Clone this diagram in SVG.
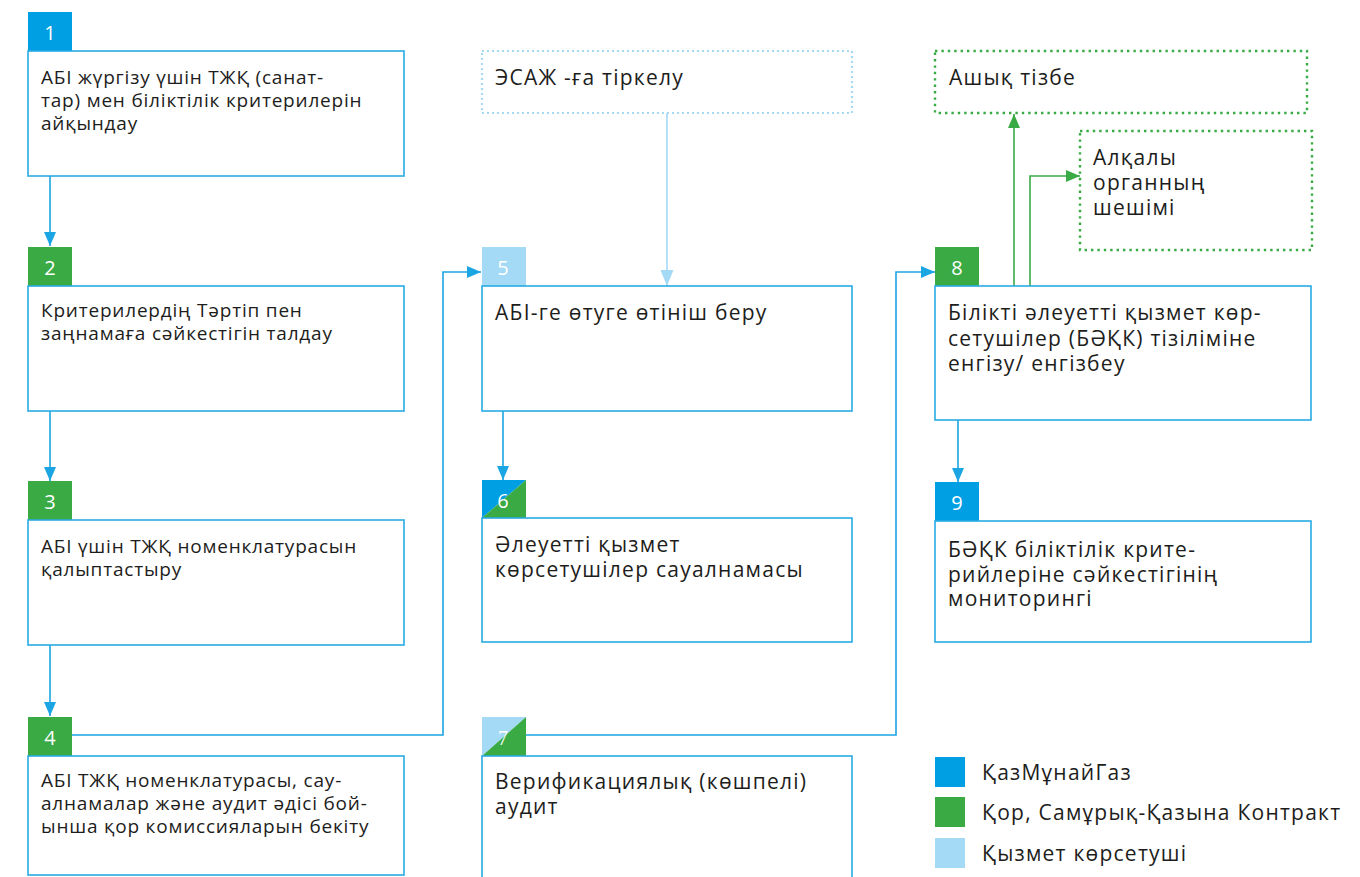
<svg xmlns="http://www.w3.org/2000/svg" width="1360" height="877" viewBox="0 0 1360 877">
<defs>
<style>
.box{fill:#fff;stroke:#29abe2;stroke-width:1.6}
.t{font-family:"Open Sans","Noto Sans","DejaVu Sans",sans-serif;fill:#1d1d1b}
.s{font-size:19px;letter-spacing:0.8px}
.l{font-size:21px;letter-spacing:1.25px}
.n{font-family:"Open Sans","Noto Sans",sans-serif;font-size:20px;fill:#fff;text-anchor:middle}
.blue{fill:#009fe3}
.green{fill:#3aaa45}
.lb{fill:#a5daf7}
.con{fill:none;stroke:#1ba5e3;stroke-width:1.6}
.conl{fill:none;stroke:#a5daf7;stroke-width:1.6}
.cong{fill:none;stroke:#3aaa45;stroke-width:1.6}
.dotb{fill:#fff;stroke:#a5daf7;stroke-width:2.2;stroke-dasharray:2 3}
.dotg{fill:#fff;stroke:#3aaa45;stroke-width:2.4;stroke-dasharray:2.4 4}
</style>
<marker id="ab" markerWidth="14" markerHeight="12" refX="14" refY="6" orient="auto" markerUnits="userSpaceOnUse"><path d="M0,0 L14,6 L0,12 Z" fill="#1ba5e3"/></marker>
<marker id="al" markerWidth="16" markerHeight="13" refX="16" refY="6.5" orient="auto" markerUnits="userSpaceOnUse"><path d="M0,0 L16,6.5 L0,13 Z" fill="#a5daf7"/></marker>
<marker id="ag" markerWidth="14" markerHeight="12" refX="14" refY="6" orient="auto" markerUnits="userSpaceOnUse"><path d="M0,0 L14,6 L0,12 Z" fill="#3aaa45"/></marker>
</defs>

<g id="connectors">
<path class="con" d="M50,176 V246" marker-end="url(#ab)"/>
<path class="con" d="M50,411 V481" marker-end="url(#ab)"/>
<path class="con" d="M50,645 V716" marker-end="url(#ab)"/>
<path class="con" d="M72,735 H443 V272 H481" marker-end="url(#ab)"/>
<path class="conl" d="M667,113 V286" marker-end="url(#al)"/>
<path class="con" d="M503,411 V480" marker-end="url(#ab)"/>
<path class="con" d="M526,735 H896 V272 H935" marker-end="url(#ab)"/>
<path class="cong" d="M1014,286 V114" marker-end="url(#ag)"/>
<path class="cong" d="M1030,286 V176 H1080" marker-end="url(#ag)"/>
<path class="con" d="M958,420 V482" marker-end="url(#ab)"/>
</g>

<g id="node1">
<rect class="blue" x="28" y="12" width="44" height="39"/>
<text class="n" x="50" y="40">1</text>
<rect class="box" x="28" y="51" width="376" height="125"/>
<text class="t s"><tspan x="41" y="84">АБІ жүргізу үшін ТЖҚ (санат-</tspan><tspan x="41" y="107">тар) мен біліктілік критерилерін</tspan><tspan x="41" y="130">айқындау</tspan></text>
</g>

<g id="node2">
<rect class="green" x="28" y="247" width="44" height="39"/>
<text class="n" x="50" y="275">2</text>
<rect class="box" x="28" y="286" width="376" height="125"/>
<text class="t s"><tspan x="41" y="317">Критерилердің Тәртіп пен</tspan><tspan x="41" y="340">заңнамаға сәйкестігін талдау</tspan></text>
</g>

<g id="node3">
<rect class="green" x="28" y="481" width="44" height="39"/>
<text class="n" x="50" y="509">3</text>
<rect class="box" x="28" y="520" width="376" height="125"/>
<text class="t s"><tspan x="41" y="553">АБІ үшін ТЖҚ номенклатурасын</tspan><tspan x="41" y="576">қалыптастыру</tspan></text>
</g>

<g id="node4">
<rect class="green" x="28" y="717" width="44" height="39"/>
<text class="n" x="50" y="745">4</text>
<rect class="box" x="28" y="756" width="376" height="119"/>
<text class="t s"><tspan x="41" y="787">АБІ ТЖҚ номенклатурасы, сау-</tspan><tspan x="41" y="810">алнамалар және аудит әдісі бой-</tspan><tspan x="41" y="833">ынша қор комиссияларын бекіту</tspan></text>
</g>

<g id="esazh">
<rect class="dotb" x="482" y="51" width="370" height="62"/>
<text class="t l" x="495" y="85">ЭСАЖ -ға тіркелу</text>
</g>

<g id="node5">
<rect class="lb" x="482" y="247" width="44" height="39"/>
<text class="n" x="503" y="275">5</text>
<rect class="box" x="482" y="286" width="370" height="125"/>
<text class="t l" x="495" y="320">АБІ-ге өтуге өтініш беру</text>
</g>

<g id="node6">
<path class="blue" d="M482,480 H526 L482,518 Z"/>
<path class="green" d="M526,480 V518 H482 Z"/>
<text class="n" x="503" y="508">6</text>
<rect class="box" x="482" y="518" width="370" height="124"/>
<text class="t l"><tspan x="495" y="552">Әлеуетті қызмет</tspan><tspan x="495" y="577">көрсетушілер сауалнамасы</tspan></text>
</g>

<g id="node7">
<path class="lb" d="M482,717 H526 L482,756 Z"/>
<path class="green" d="M526,717 V756 H482 Z"/>
<text class="n" x="503" y="745" style="font-family:'Liberation Serif',serif">7</text>
<rect class="box" x="482" y="756" width="370" height="125"/>
<text class="t l"><tspan x="495" y="789">Верификациялық (көшпелі)</tspan><tspan x="495" y="814">аудит</tspan></text>
</g>

<g id="open-list">
<rect class="dotg" x="935" y="51" width="372" height="62"/>
<text class="t l" x="949" y="85">Ашық тізбе</text>
</g>

<g id="collegial">
<rect class="dotg" x="1080" y="131" width="232" height="119"/>
<text class="t l"><tspan x="1093" y="165">Алқалы</tspan><tspan x="1093" y="190">органның</tspan><tspan x="1093" y="215">шешімі</tspan></text>
</g>

<g id="node8">
<rect class="green" x="935" y="247" width="44" height="39"/>
<text class="n" x="957" y="275">8</text>
<rect class="box" x="935" y="286" width="376" height="134"/>
<text class="t l"><tspan x="948" y="320">Білікті әлеуетті қызмет көр-</tspan><tspan x="948" y="346">сетушілер (БӘҚК) тізіліміне</tspan><tspan x="948" y="371">енгізу/ енгізбеу</tspan></text>
</g>

<g id="node9">
<rect class="blue" x="935" y="482" width="44" height="39"/>
<text class="n" x="957" y="510">9</text>
<rect class="box" x="935" y="521" width="376" height="121"/>
<text class="t l"><tspan x="948" y="557">БӘҚК біліктілік крите-</tspan><tspan x="948" y="582">рийлеріне сәйкестігінің</tspan><tspan x="948" y="606">мониторингі</tspan></text>
</g>

<g id="legend">
<rect class="blue" x="935" y="757" width="30" height="30"/>
<text class="t l" x="982" y="780">ҚазМұнайГаз</text>
<rect class="green" x="935" y="797" width="30" height="30"/>
<text class="t l" x="982" y="820">Қор, Самұрық-Қазына Контракт</text>
<rect class="lb" x="935" y="838" width="30" height="30"/>
<text class="t l" x="982" y="861">Қызмет көрсетуші</text>
</g>
</svg>
